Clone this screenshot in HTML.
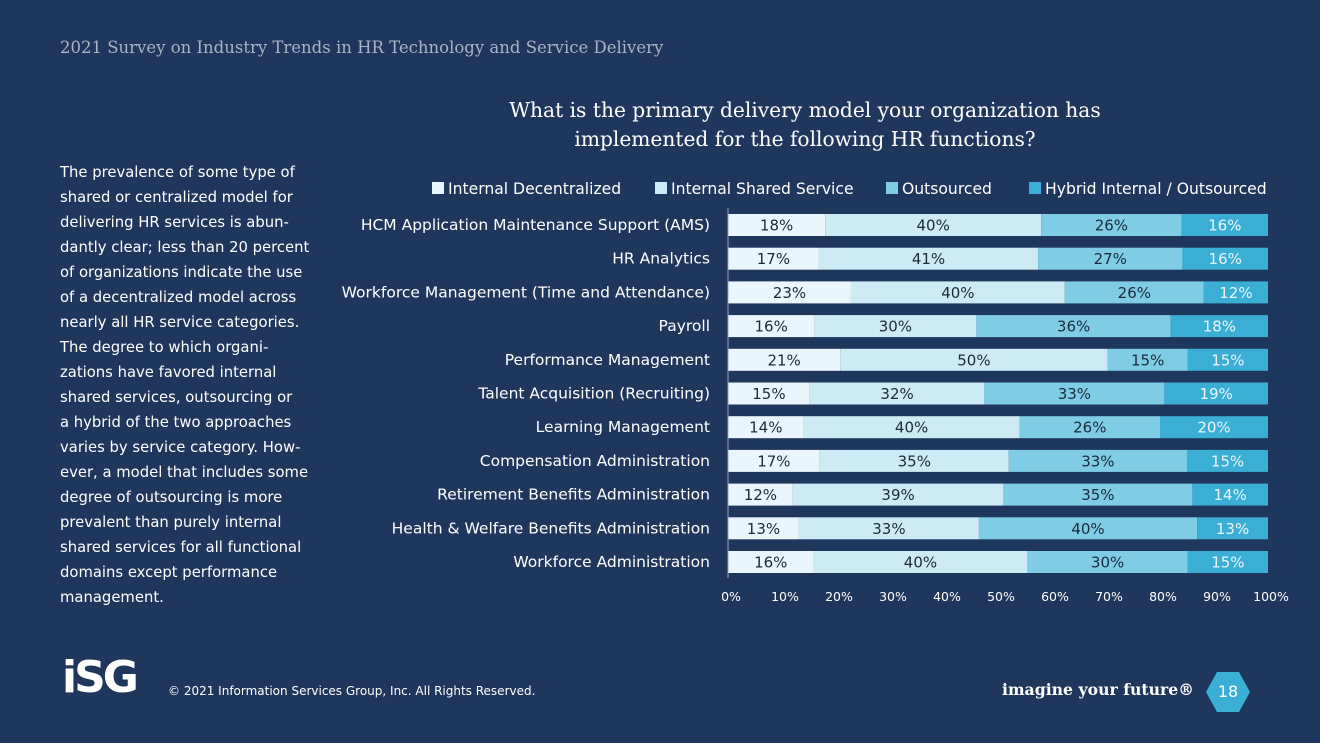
<!DOCTYPE html>
<html><head><meta charset="utf-8">
<style>
body{margin:0;width:1320px;height:743px;background:#1f375c;font-family:"DejaVu Sans","Liberation Sans",sans-serif;overflow:hidden;position:relative;color:#fff}
.abs{position:absolute}
#hdr{left:60px;top:38px;font-family:"DejaVu Serif","Liberation Serif",serif;font-size:16.5px;color:#a9b4c4;white-space:nowrap}
#title{left:440px;top:96px;width:730px;text-align:center;font-family:"DejaVu Serif","Liberation Serif",serif;font-size:20.2px;line-height:29px;color:#fff;white-space:nowrap}
#body{left:60px;top:160px;font-size:14.8px;line-height:25px;color:#fff;white-space:nowrap}
#copy{left:168px;top:684px;font-size:12px;color:#fff}
#logo{left:62px;top:652px;font-family:"DejaVu Sans",sans-serif;font-weight:bold;font-size:44px;color:#fff;letter-spacing:-3px}
#tag{left:1002px;top:680px;font-family:"DejaVu Serif",serif;font-weight:bold;font-size:15.7px}
#pg{left:1206px;top:672px;width:44px;height:40px;background:#3aaed4;clip-path:polygon(25% 0,75% 0,100% 50%,75% 100%,25% 100%,0 50%);text-align:center;line-height:40px;font-size:16px}
</style></head><body>
<div class="abs" id="hdr">2021 Survey on Industry Trends in HR Technology and Service Delivery</div>
<div class="abs" id="title">What is the primary delivery model your organization has<br>implemented for the following HR functions?</div>
<div class="abs" id="body">The prevalence of some type of<br>shared or centralized model for<br>delivering HR services is abun-<br>dantly clear; less than 20 percent<br>of organizations indicate the use<br>of a decentralized model across<br>nearly all HR service categories.<br>The degree to which organi-<br>zations have favored internal<br>shared services, outsourcing or<br>a hybrid of the two approaches<br>varies by service category. How-<br>ever, a model that includes some<br>degree of outsourcing is more<br>prevalent than purely internal<br>shared services for all functional<br>domains except performance<br>management.</div>
<svg class="abs" style="left:0;top:0" width="1320" height="743" id="chart"></svg>
<div class="abs" id="logo">iSG</div>
<div class="abs" id="copy">© 2021 Information Services Group, Inc. All Rights Reserved.</div>
<div class="abs" id="tag">imagine your future®</div>
<div class="abs" id="pg">18</div>
<script>
const categories=["HCM Application Maintenance Support (AMS)","HR Analytics","Workforce Management (Time and Attendance)","Payroll","Performance Management","Talent Acquisition (Recruiting)","Learning Management","Compensation Administration","Retirement Benefits Administration","Health & Welfare Benefits Administration","Workforce Administration"];
const seriesNames=["Internal Decentralized","Internal Shared Service","Outsourced","Hybrid Internal / Outsourced"];
const decentralized=[18,17,23,16,21,15,14,17,12,13,16];
const shared=[40,41,40,30,50,32,40,35,39,33,40];
const outsourced=[26,27,26,36,15,33,26,33,35,40,30];
const hybrid=[16,16,12,18,15,19,20,15,14,13,15];
const ticks=[0,10,20,30,40,50,60,70,80,90,100];
const colors=["#e9f6fb","#cdebf4","#7fcde4","#3aaed4"];
const NS="http://www.w3.org/2000/svg",svg=document.getElementById('chart');
const x=v=>728+v*5.4, y=i=>214+i*33.7, bh=22;
function mk(t,a,txt){const e=document.createElementNS(NS,t);for(const k in a)e.setAttribute(k,a[k]);if(txt!==undefined)e.textContent=txt;svg.appendChild(e);return e;}
const series=[decentralized,shared,outsourced,hybrid];
categories.forEach((c,i)=>{
 const l=mk('text',{x:710,y:y(i)+bh/2+5,'text-anchor':'end','font-size':15.5,fill:'#fff'},c);
 
 
 const tot=series.reduce((s,a)=>s+a[i],0);
 let acc=0;
 series.forEach((s,k)=>{
  const v=s[i]*100/tot;
  const r=mk('rect',{x:x(acc),y:y(i),width:x(acc+v)-x(acc),height:bh,fill:colors[k]});
  
  
  const t=mk('text',{x:(x(acc)+x(acc+v))/2,y:y(i)+bh/2+5.5,'text-anchor':'middle','font-size':15,fill:k==3?'#eaf6fb':'#1a2a3a'},s[i]+'%');
  
  
  acc+=v;
 });
});
mk('line',{x1:728,x2:728,y1:208,y2:578,stroke:'#9aa8bb','stroke-width':1});
ticks.forEach(v=>{
 const t=mk('text',{x:x(v)+3,y:601,'text-anchor':'middle','font-size':12.5,fill:'#fff'},v+'%');
 
 
});
const lx=[432,655,886,1029];
seriesNames.forEach((n,k)=>{
 const r=mk('rect',{x:lx[k],y:182,width:12,height:12,fill:colors[k]});
 
 
 const t=mk('text',{x:lx[k]+16,y:194,'font-size':15.6,fill:'#fff'},n);
 
 
});
</script>
</body></html>
